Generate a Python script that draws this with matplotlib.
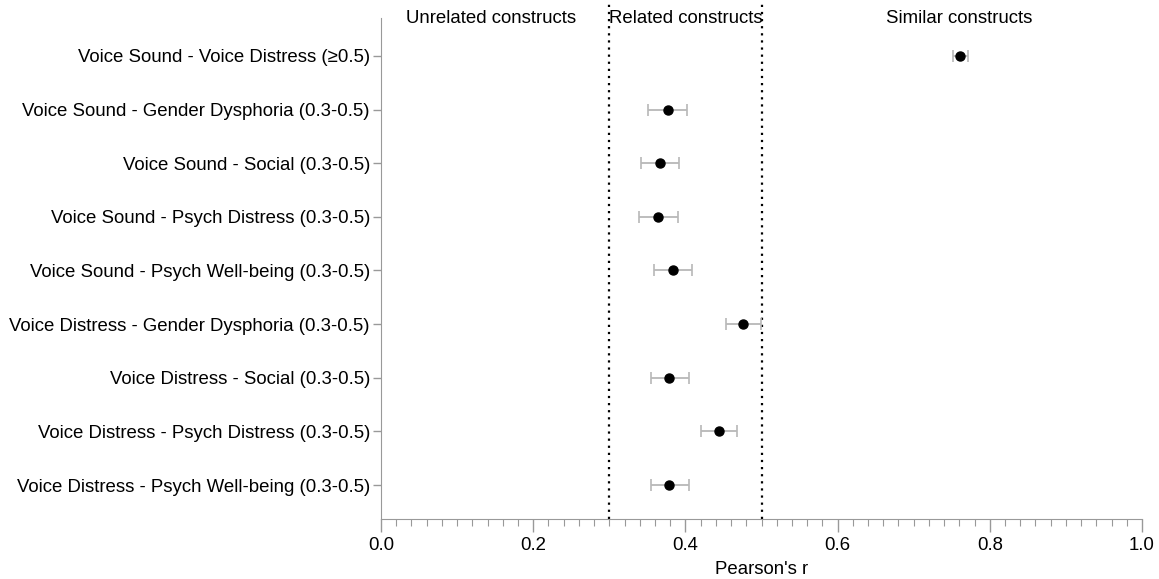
import matplotlib
matplotlib.use("Agg")
import matplotlib.pyplot as plt
from matplotlib.ticker import MultipleLocator

plt.rcParams['font.family'] = ['Liberation Sans', 'DejaVu Sans']

labels = [
    "Voice Sound - Voice Distress (\u22650.5)",
    "Voice Sound - Gender Dysphoria (0.3-0.5)",
    "Voice Sound - Social (0.3-0.5)",
    "Voice Sound - Psych Distress (0.3-0.5)",
    "Voice Sound - Psych Well-being (0.3-0.5)",
    "Voice Distress - Gender Dysphoria (0.3-0.5)",
    "Voice Distress - Social (0.3-0.5)",
    "Voice Distress - Psych Distress (0.3-0.5)",
    "Voice Distress - Psych Well-being (0.3-0.5)",
]
r_values = [0.761, 0.377, 0.367, 0.364, 0.384, 0.476, 0.379, 0.444, 0.379]
ci_low = [0.751, 0.351, 0.342, 0.339, 0.359, 0.454, 0.355, 0.420, 0.355]
ci_high = [0.772, 0.402, 0.392, 0.390, 0.409, 0.499, 0.405, 0.468, 0.405]
region_bounds = [0.3, 0.5]
region_names = ["Unrelated constructs", "Related constructs", "Similar constructs"]
region_text_x = [0.144, 0.401, 0.76]
x_ticks = [0.0, 0.2, 0.4, 0.6, 0.8, 1.0]
x_ticklabels = ["0.0", "0.2", "0.4", "0.6", "0.8", "1.0"]

FS = 13.4

fig = plt.figure(figsize=(11.59, 5.79), dpi=100)
ax = fig.add_axes([381/1159, 1 - 519/579, (1142 - 381)/1159, 519/579])

ypos = list(range(len(labels)))
xerr = [[r - lo for r, lo in zip(r_values, ci_low)],
        [hi - r for r, hi in zip(r_values, ci_high)]]
ax.errorbar(r_values, ypos, xerr=xerr, fmt='none', ecolor='#b8b8b8',
            elinewidth=1.3, capsize=4, capthick=1.2, zorder=2)
ax.plot(r_values, ypos, 'o', color='black', markersize=6.5, zorder=3)

for b in region_bounds:
    ax.axvline(b, color='black', linestyle=(0, (1, 2.2)), linewidth=1.6, zorder=1)

for name, xt in zip(region_names, region_text_x):
    ax.text(xt, -0.69, name, ha='center', va='center', fontsize=FS)

ax.set_xlim(0, 1.0)
ax.set_ylim(8.634, -1.044)
ax.set_yticks(ypos)
ax.set_yticklabels(labels, fontsize=FS)
ax.set_xticks(x_ticks)
ax.set_xticklabels(x_ticklabels)
ax.xaxis.set_minor_locator(MultipleLocator(0.02))
ax.tick_params(axis='x', which='major', length=9, width=1, color='#999999',
               labelsize=FS, pad=4)
ax.tick_params(axis='x', which='minor', length=5, width=0.8, color='#999999')
ax.tick_params(axis='y', length=6, width=1, color='#999999', pad=2)
ax.set_xlabel("Pearson's r", fontsize=FS, labelpad=5)

for s in ['top', 'right']:
    ax.spines[s].set_visible(False)
for s in ['left', 'bottom']:
    ax.spines[s].set_color('#999999')
ax.spines['left'].set_bounds(-0.71, 8.634)

fig.savefig("out.png", dpi=100)
